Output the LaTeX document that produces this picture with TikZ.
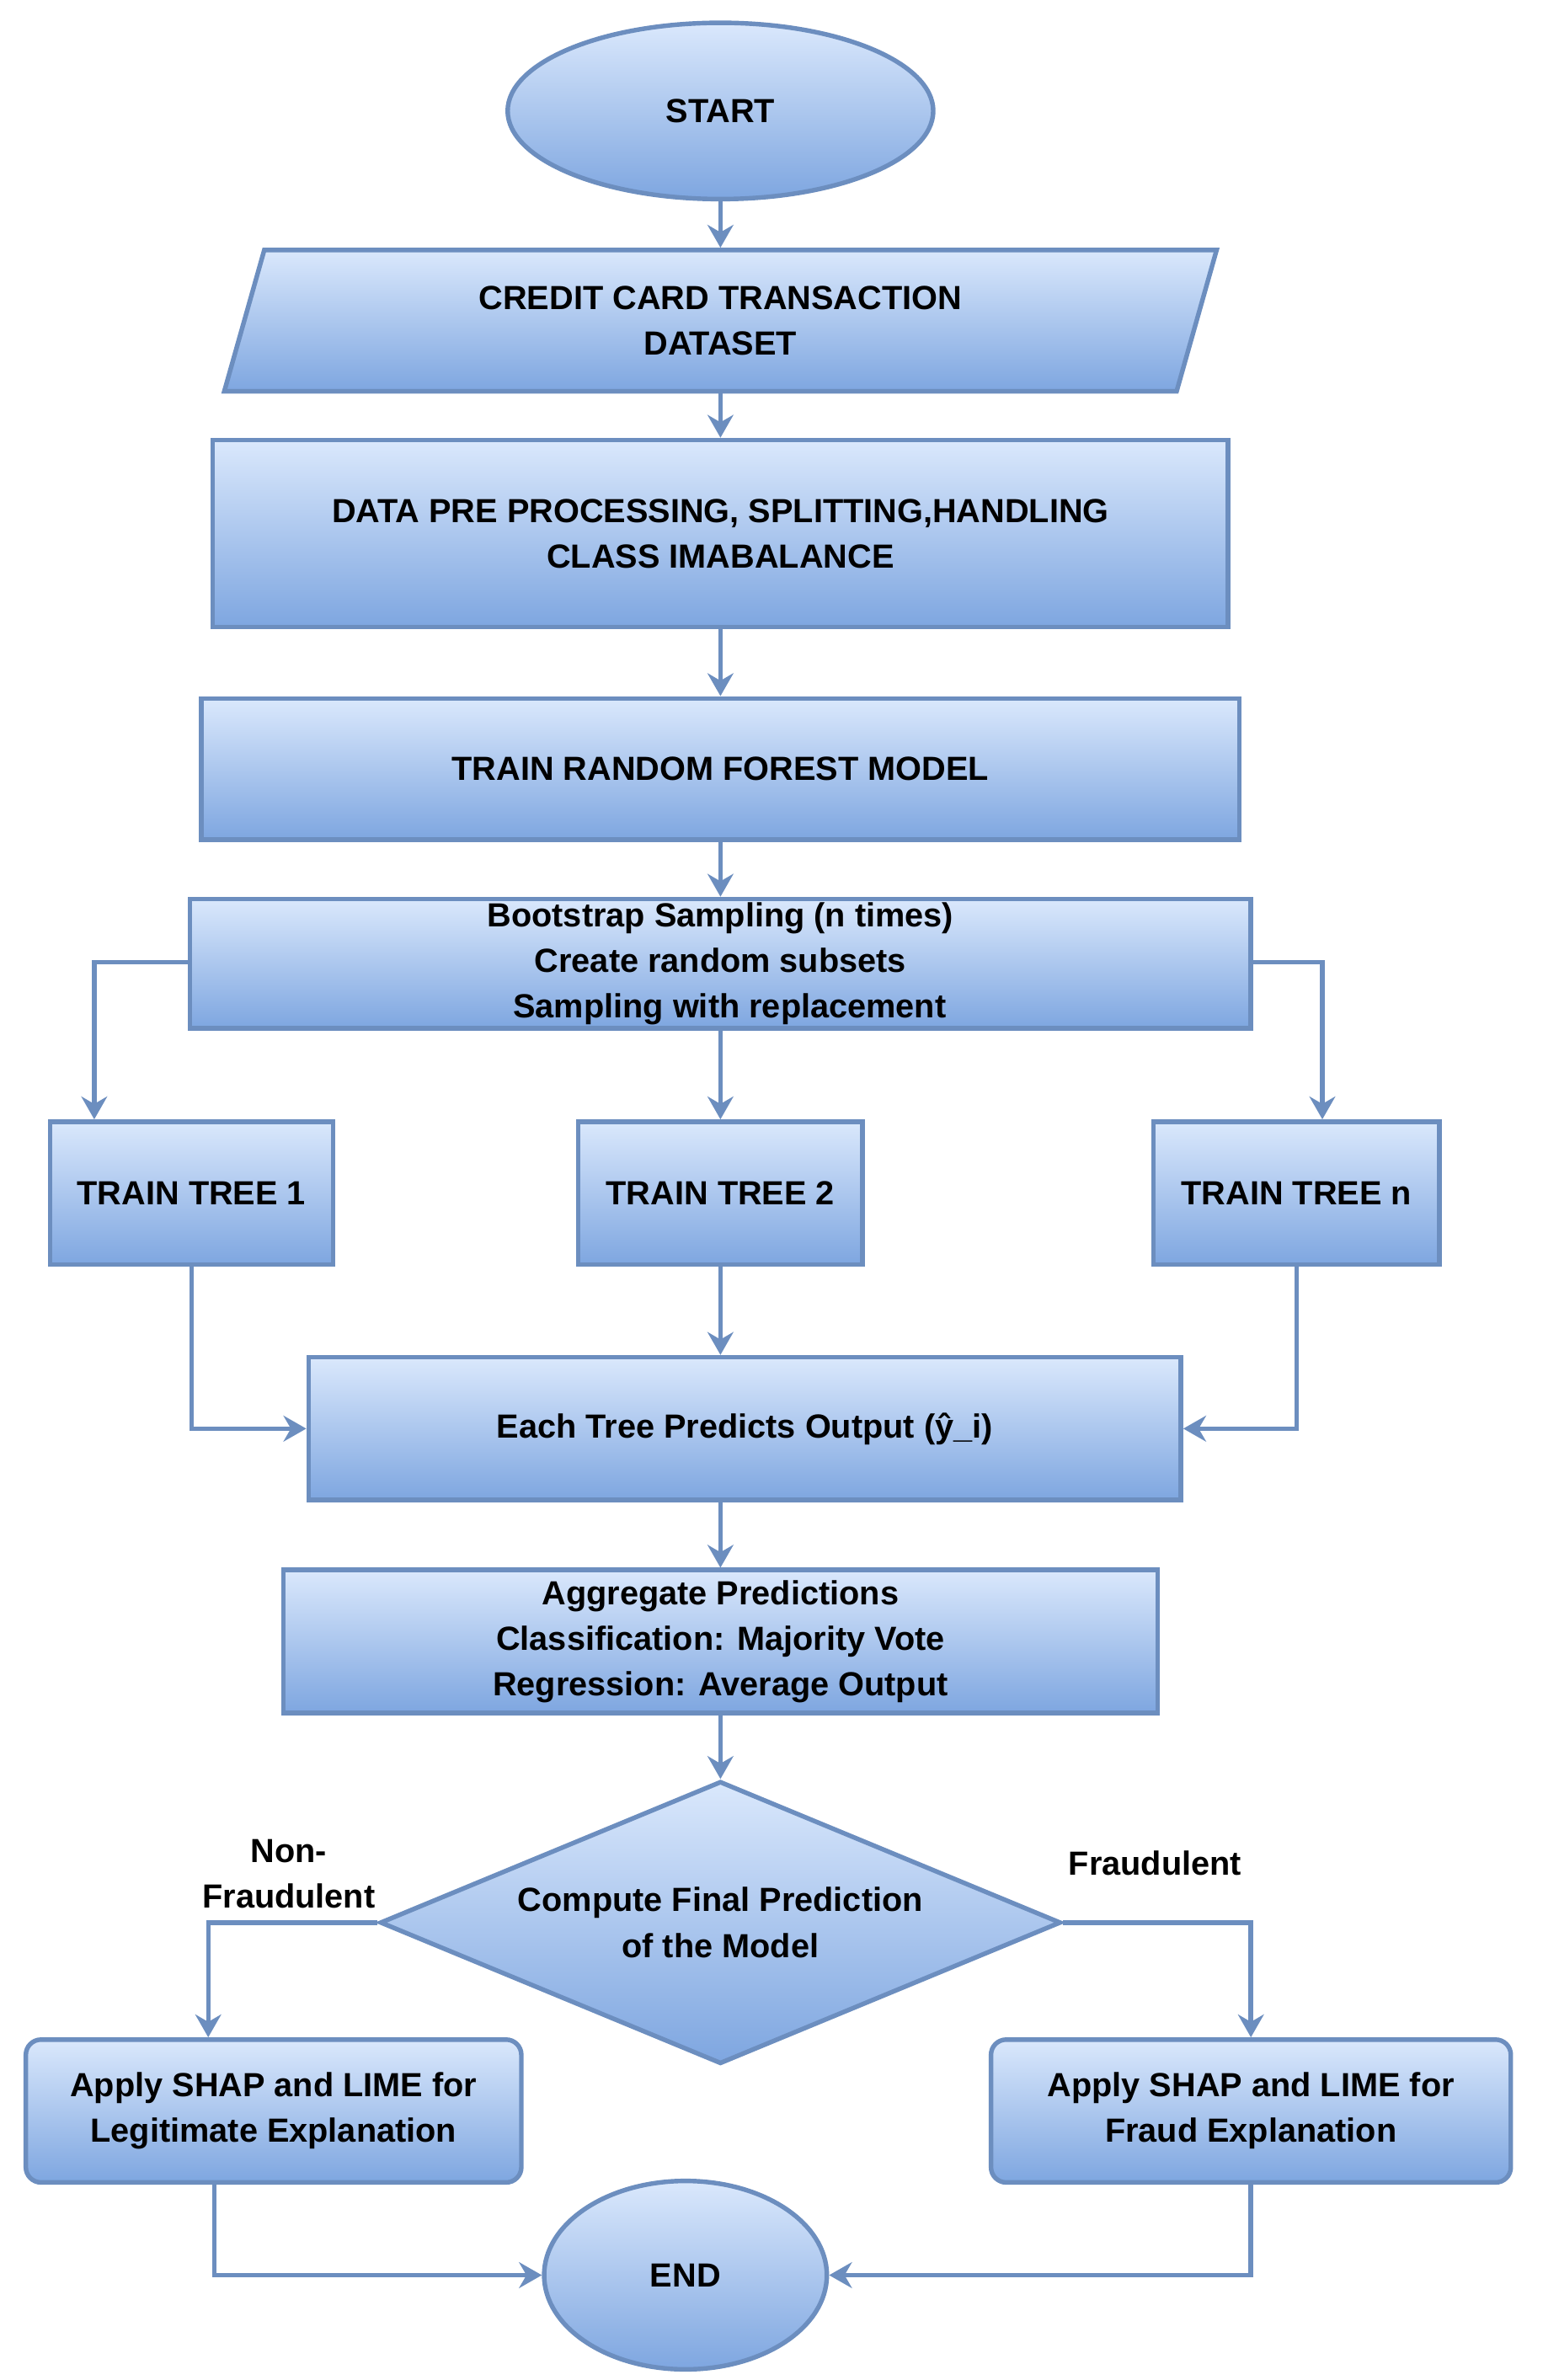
\documentclass[tikz,border=0pt]{standalone}
\usepackage{fontspec}
\setmainfont{Liberation Sans}
\usetikzlibrary{shapes.geometric,arrows.meta}
\definecolor{edge}{HTML}{6C8EBF}
\definecolor{ftop}{HTML}{DAE8FC}
\definecolor{fbot}{HTML}{7EA6E0}
\begin{document}
\begin{tikzpicture}[x=1pt,y=-1pt,
  every node/.style={font=\fontsize{22}{30}\selectfont\bfseries, align=center, inner sep=0pt},
  box/.style={draw=edge, line width=3pt, top color=ftop, bottom color=fbot, minimum width=#1},
  arr/.style={draw=edge, line width=3pt, -{Stealth[length=15pt,width=17pt]}}]
\useasboundingbox (0,0) rectangle (1015,1566);
\node[box, ellipse, minimum width=280, minimum height=116] (start) at (474,73) {START};
\node[box, trapezium, trapezium left angle=73, trapezium right angle=107, minimum width=655, minimum height=93, trapezium stretches=true] (data) at (474,211) {CREDIT CARD TRANSACTION\\DATASET};
\node[box=668, minimum height=123] (pre) at (474,351) {DATA PRE PROCESSING, SPLITTING,HANDLING\\CLASS IMABALANCE};
\node[box=683, minimum height=93] (rf) at (474,506) {TRAIN RANDOM FOREST MODEL};
\node[box=698, minimum height=85] (boot) at (474,634) {Bootstrap Sampling (n times)\\Create random subsets\\\ \ Sampling with replacement};
\node[box=186, minimum height=94] (t1) at (126,785) {TRAIN TREE 1};
\node[box=187, minimum height=94] (t2) at (474,785) {TRAIN TREE 2};
\node[box=188, minimum height=94] (tn) at (853,785) {TRAIN TREE n};
\node[box=574, minimum height=94] (each) at (490,940) {Each Tree Predicts Output (ŷ\_i)};
\node[box=575, minimum height=94] (agg) at (474,1080) {Aggregate Predictions\\Classification: Majority Vote\\Regression: Average Output};
\node[box, diamond, aspect=2.41, minimum width=448, minimum height=186] (dec) at (474,1265) {Compute Final Prediction\\of the Model};
\node[box=326, minimum height=94, rounded corners=10pt] (leg) at (180,1389) {Apply SHAP and LIME for\\Legitimate Explanation};
\node[box=342, minimum height=94, rounded corners=10pt] (fr) at (823,1389) {Apply SHAP and LIME for\\Fraud Explanation};
\node[box, ellipse, minimum width=186, minimum height=124] (end) at (451,1497) {END};
\draw[arr] (start) -- (data);
\draw[arr] (data) -- (pre);
\draw[arr] (pre) -- (rf);
\draw[arr] (rf) -- (boot);
\draw[arr] (boot.west |- 0,633) -| (t1.north -| 62,0);
\draw[arr] (boot) -- (t2);
\draw[arr] (boot.east |- 0,633) -| (tn.north -| 870,0);
\draw[arr] (t1) |- (each.west);
\draw[arr] (t2) -- (each.north -| t2);
\draw[arr] (tn) |- (each.east);
\draw[arr] (each.south -| 474,0) -- (agg);
\draw[arr] (agg) -- (dec);
\draw[arr] (dec.west) -| (leg.north -| 137,0);
\draw[arr] (dec.east) -| (fr);
\draw[arr] (leg.south -| 141,0) |- (end.west);
\draw[arr] (fr) |- (end.east);
\node (nf) at (190,1233) {Non-\\Fraudulent};
\node (fl) at (760,1226) {Fraudulent};
\end{tikzpicture}
\end{document}
